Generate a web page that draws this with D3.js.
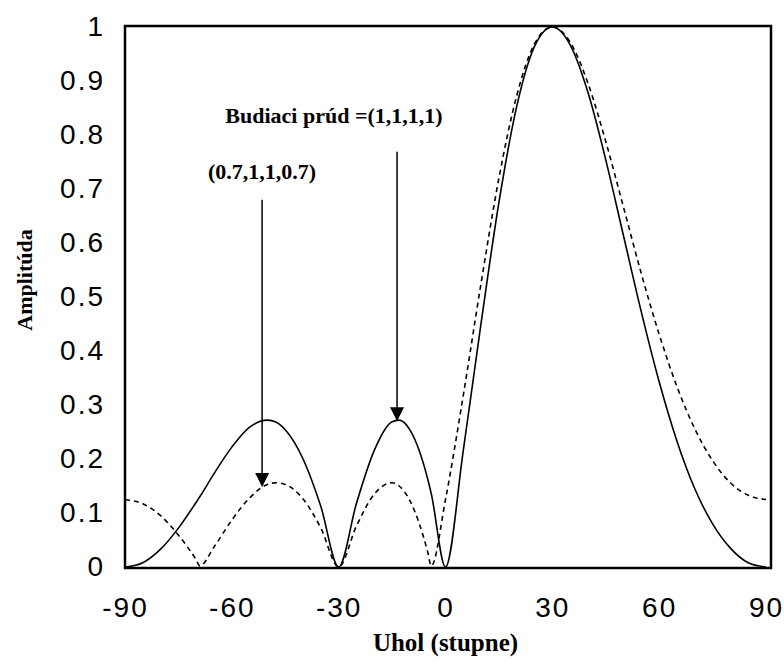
<!DOCTYPE html>
<html>
<head>
<meta charset="utf-8">
<script src="https://cdn.jsdelivr.net/npm/d3@7"></script>
<style>
  body { margin: 0; background: #fff; overflow: hidden; }
  svg { display: block; }
</style>
</head>
<body>
<div id="chart"></div>
<script>
// DATA
const angles = [-90, -85, -80, -75, -70, -69, -65, -60, -55, -50, -47.5, -45, -40, -35, -30, -25, -20, -15, -13, -10, -5, -4,
                0, 5, 10, 15, 20, 25, 30, 35, 40, 45, 50, 55, 60, 65, 70, 75, 80, 85, 90];

// Budiaci prud (1,1,1,1) - solid
const uniformAmp = [0, 0.008, 0.033, 0.072, 0.120, 0.130, 0.173, 0.222, 0.259, 0.272, 0.268, 0.254, 0.200, 0.112, 0, 0.118, 0.216, 0.269, 0.272, 0.254, 0.163, 0.136,
                    0, 0.216, 0.452, 0.675, 0.853, 0.964, 1, 0.967, 0.879, 0.754, 0.613, 0.472, 0.343, 0.233, 0.145, 0.080, 0.035, 0.008, 0];

// (0.7,1,1,0.7) - dashed
const taperedAmp = [0.125, 0.117, 0.095, 0.059, 0.013, 0.002, 0.037, 0.087, 0.128, 0.153, 0.156, 0.153, 0.126, 0.072, 0, 0.076, 0.135, 0.156, 0.150, 0.123, 0.028, 0.002,
                    0.125, 0.318, 0.526, 0.720, 0.873, 0.969, 1, 0.972, 0.896, 0.788, 0.666, 0.543, 0.431, 0.334, 0.256, 0.197, 0.156, 0.133, 0.125];

const xTicks = [-90, -60, -30, 0, 30, 60, 90];
const yTicks = [0, 0.1, 0.2, 0.3, 0.4, 0.5, 0.6, 0.7, 0.8, 0.9, 1];
const yTickLabels = ["0", "0.1", "0.2", "0.3", "0.4", "0.5", "0.6", "0.7", "0.8", "0.9", "1"];

// arrow from amp `from` down to the curve point
const notes = [
  { text: "Budiaci prúd =(1,1,1,1)", angle: -13.6, from: 0.769, to: 0.270 },
  { text: "(0.7,1,1,0.7)", angle: -51.5, from: 0.680, to: 0.148 }
];

const width = 784, height = 665;
const margin = { top: 27, bottom: 98, left: 125, right: 18 };
const innerWidth = width - margin.left - margin.right;
const innerHeight = height - margin.top - margin.bottom;

const sans = "'Liberation Sans', Arial, sans-serif";
const serif = "'Liberation Serif', 'Times New Roman', serif";

const svg = d3.select("#chart").append("svg")
  .attr("width", width)
  .attr("height", height);

const g = svg.append("g")
  .attr("transform", `translate(${margin.left},${margin.top})`);

const x = d3.scaleLinear().domain([-90, 90]).range([0, innerWidth]);
const y = d3.scaleLinear().domain([0, 1]).range([innerHeight, 0]);

// frame
g.append("rect")
  .attr("x", 0)
  .attr("y", -1)
  .attr("width", innerWidth + 5)
  .attr("height", innerHeight + 2)
  .attr("fill", "none")
  .attr("stroke", "#000")
  .attr("stroke-width", 2.5);

// axes, no tick marks
const xAxis = d3.axisBottom(x).tickValues(xTicks).tickSize(0).tickPadding(30)
  .tickFormat(d => String(d));
const yAxis = d3.axisLeft(y).tickValues(yTicks).tickSize(0).tickPadding(20)
  .tickFormat((d, i) => yTickLabels[i]);

let xAxisG = g.append("g").attr("class", "x-axis")
  .attr("transform", `translate(0,${innerHeight})`)
  .call(xAxis);
xAxisG.select(".domain").remove();

let yAxisG = g.append("g").attr("class", "y-axis")
  .call(yAxis);
yAxisG.select(".domain").remove();

g.selectAll(".tick text")
  .attr("font-family", sans)
  .attr("font-size", 28)
  .attr("letter-spacing", "2px")
  .attr("fill", "#000");

// curves
const line = d3.line()
  .x((d, i) => x(angles[i]))
  .y(d => y(d))
  .curve(d3.curveMonotoneX);

g.append("path")
  .datum(taperedAmp)
  .attr("d", line)
  .attr("fill", "none")
  .attr("stroke", "#000")
  .attr("stroke-width", 1.6)
  .attr("stroke-dasharray", "5,4");

g.append("path")
  .datum(uniformAmp)
  .attr("d", line)
  .attr("fill", "none")
  .attr("stroke", "#000")
  .attr("stroke-width", 1.6);

// arrows
const arrows = g.selectAll(".arrow").data(notes).enter().append("g").attr("class", "arrow");
arrows.append("line")
  .attr("x1", d => x(d.angle)).attr("x2", d => x(d.angle))
  .attr("y1", d => y(d.from)).attr("y2", d => y(d.to) - 10)
  .attr("stroke", "#000")
  .attr("stroke-width", 1.5);
arrows.append("path")
  .attr("d", d => {
    const tx = x(d.angle), ty = y(d.to);
    return `M${tx},${ty} L${tx - 7},${ty - 14} L${tx + 7},${ty - 14} Z`;
  })
  .attr("fill", "#000");

// annotation texts
svg.append("text")
  .attr("x", 334).attr("y", 123)
  .attr("text-anchor", "middle")
  .attr("font-family", serif).attr("font-weight", "bold")
  .attr("font-size", 22)
  .text(notes[0].text);

svg.append("text")
  .attr("x", 262).attr("y", 179)
  .attr("text-anchor", "middle")
  .attr("font-family", serif).attr("font-weight", "bold")
  .attr("font-size", 22)
  .text(notes[1].text);

// axis titles
svg.append("text")
  .attr("x", margin.left + x(0)).attr("y", 651)
  .attr("text-anchor", "middle")
  .attr("font-family", serif).attr("font-weight", "bold")
  .attr("font-size", 25)
  .text("Uhol (stupne)");

svg.append("text")
  .attr("transform", "translate(32,280) rotate(-90)")
  .attr("text-anchor", "middle")
  .attr("font-family", serif).attr("font-weight", "bold")
  .attr("font-size", 22)
  .text("Amplitúda");
</script>
</body>
</html>
